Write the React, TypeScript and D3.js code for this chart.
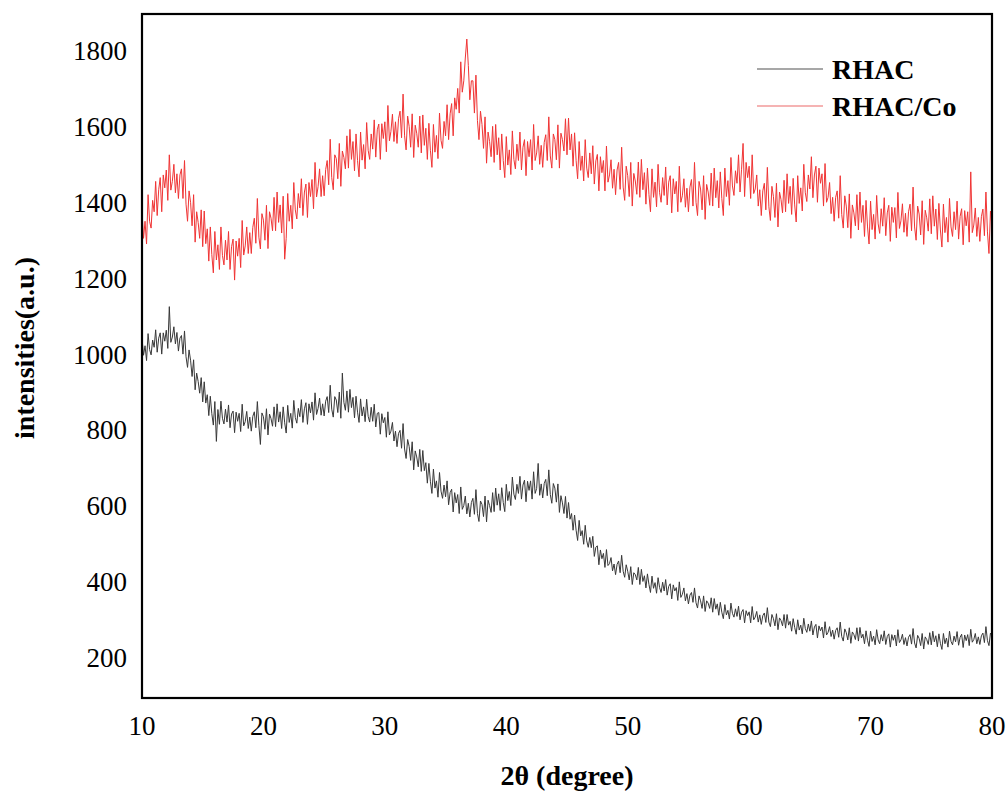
import React from "react";
import * as d3 from "d3";

// 2θ sampling: start 10°, step 0.125° (8 readings per degree)
const twoThetaStart = 10;
const twoThetaStep = 0.125;

// RHAC intensities, one row per degree (10..79) + final value at 80
const rhac = [
  1042, 997, 1022, 983, 1054, 1012, 998, 1037,
  1018, 1064, 1005, 1042, 1056, 1000, 1056, 1034,
  1063, 1015, 1125, 1031, 1045, 1072, 1027, 1057,
  1008, 1042, 1049, 1000, 1061, 993, 965, 1011,
  984, 941, 985, 906, 950, 928, 897, 938,
  874, 927, 871, 893, 838, 889, 843, 813,
  875, 770, 854, 815, 876, 831, 816, 855,
  821, 866, 806, 842, 850, 793, 847, 823,
  844, 796, 868, 811, 822, 849, 804, 834,
  797, 836, 848, 806, 875, 812, 762, 845,
  835, 802, 856, 787, 842, 830, 810, 861,
  809, 869, 821, 848, 804, 861, 819, 792,
  865, 820, 844, 805, 878, 833, 818, 857,
  835, 880, 820, 856, 872, 815, 869, 845,
  874, 826, 898, 841, 857, 884, 839, 869,
  837, 876, 888, 846, 918, 855, 834, 888,
  879, 846, 900, 831, 950, 873, 852, 903,
  847, 907, 859, 886, 832, 889, 847, 820,
  882, 837, 861, 822, 881, 836, 821, 860,
  823, 868, 808, 844, 846, 789, 843, 819,
  833, 781, 848, 787, 797, 820, 771, 797,
  756, 791, 799, 752, 817, 750, 725, 775,
  757, 720, 769, 695, 745, 729, 703, 749,
  691, 746, 693, 714, 660, 712, 665, 633,
  697, 647, 666, 623, 688, 639, 620, 655,
  624, 666, 603, 635, 644, 584, 635, 608,
  630, 580, 650, 591, 601, 626, 579, 607,
  571, 609, 620, 578, 643, 580, 559, 613,
  604, 572, 626, 558, 615, 601, 583, 635,
  585, 647, 602, 632, 588, 648, 609, 585,
  657, 614, 638, 601, 676, 631, 617, 657,
  633, 678, 618, 655, 668, 611, 665, 641,
  666, 618, 690, 633, 646, 712, 628, 658,
  621, 659, 670, 627, 695, 630, 607, 659,
  647, 610, 658, 583, 627, 608, 580, 625,
  568, 609, 565, 580, 536, 576, 536, 509,
  562, 521, 535, 499, 549, 508, 491, 517,
  490, 520, 467, 491, 495, 445, 484, 461,
  475, 438, 485, 443, 448, 464, 429, 447,
  419, 446, 455, 424, 470, 428, 412, 445,
  428, 405, 440, 393, 424, 419, 405, 438,
  393, 433, 401, 416, 384, 421, 393, 372,
  415, 383, 398, 370, 411, 385, 372, 399,
  376, 406, 365, 388, 395, 355, 392, 376,
  385, 351, 400, 359, 367, 384, 350, 369,
  342, 365, 372, 346, 384, 345, 331, 363,
  350, 330, 363, 322, 350, 344, 330, 358,
  320, 356, 328, 342, 312, 346, 320, 303,
  340, 313, 325, 302, 344, 317, 307, 329,
  309, 336, 300, 320, 327, 292, 324, 311,
  321, 292, 335, 300, 307, 322, 294, 313,
  288, 311, 318, 293, 332, 294, 282, 314,
  303, 284, 316, 274, 305, 298, 284, 314,
  278, 314, 286, 296, 270, 303, 280, 262,
  300, 273, 286, 263, 304, 277, 267, 289,
  270, 297, 260, 281, 288, 252, 284, 271,
  281, 252, 295, 260, 267, 282, 256, 273,
  249, 272, 279, 254, 294, 256, 244, 276,
  266, 247, 279, 238, 268, 261, 248, 279,
  244, 280, 252, 262, 237, 271, 246, 230,
  270, 243, 257, 234, 274, 247, 237, 261,
  244, 271, 235, 256, 263, 228, 261, 246,
  260, 231, 274, 240, 247, 262, 235, 253,
  231, 254, 261, 236, 277, 239, 226, 259,
  251, 232, 264, 223, 255, 248, 235, 266,
  234, 270, 242, 258, 229, 263, 238, 222,
  264, 237, 252, 228, 270, 243, 234, 257,
  242, 269, 233, 254, 262, 227, 260, 245,
  261, 232, 275, 241, 248, 264, 237, 255,
  235, 258, 265, 240, 282, 245, 232, 265,
  258,
];

// RHAC/Co intensities, one row per degree (10..79) + final value at 80
const rhacCo = [
  1375, 1305, 1350, 1290, 1420, 1350, 1332, 1405,
  1375, 1455, 1365, 1433, 1465, 1375, 1472, 1438,
  1485, 1405, 1525, 1432, 1455, 1500, 1425, 1475,
  1410, 1472, 1488, 1410, 1510, 1395, 1350, 1430,
  1400, 1338, 1420, 1295, 1375, 1347, 1305, 1380,
  1283, 1377, 1291, 1330, 1245, 1335, 1262, 1214,
  1323, 1248, 1288, 1223, 1335, 1260, 1235, 1300,
  1248, 1323, 1223, 1283, 1303, 1195, 1298, 1258,
  1305, 1228, 1352, 1261, 1285, 1335, 1265, 1320,
  1265, 1334, 1358, 1292, 1410, 1308, 1277, 1370,
  1353, 1300, 1392, 1278, 1375, 1358, 1325, 1413,
  1325, 1427, 1347, 1393, 1319, 1416, 1250, 1305,
  1423, 1350, 1392, 1330, 1452, 1380, 1356, 1423,
  1385, 1462, 1365, 1427, 1448, 1360, 1452, 1415,
  1460, 1383, 1505, 1414, 1441, 1488, 1415, 1470,
  1417, 1486, 1510, 1446, 1566, 1465, 1433, 1525,
  1515, 1462, 1555, 1442, 1535, 1518, 1488, 1575,
  1490, 1592, 1513, 1560, 1483, 1580, 1510, 1467,
  1585, 1511, 1552, 1488, 1610, 1537, 1513, 1580,
  1540, 1617, 1519, 1591, 1606, 1513, 1607, 1568,
  1612, 1533, 1655, 1562, 1587, 1632, 1560, 1612,
  1555, 1620, 1640, 1570, 1685, 1575, 1538, 1627,
  1600, 1545, 1633, 1518, 1603, 1582, 1545, 1627,
  1530, 1630, 1550, 1595, 1513, 1608, 1537, 1492,
  1605, 1532, 1576, 1515, 1635, 1563, 1542, 1613,
  1575, 1657, 1565, 1633, 1660, 1575, 1675, 1645,
  1700, 1635, 1770, 1690, 1720, 1780, 1830, 1760,
  1670, 1720, 1720, 1635, 1735, 1615, 1565, 1640,
  1605, 1542, 1625, 1503, 1585, 1560, 1520, 1600,
  1505, 1605, 1525, 1570, 1485, 1580, 1510, 1465,
  1573, 1498, 1538, 1473, 1588, 1513, 1488, 1553,
  1510, 1585, 1485, 1545, 1565, 1470, 1560, 1520,
  1565, 1485, 1605, 1510, 1530, 1575, 1500, 1550,
  1492, 1558, 1578, 1510, 1625, 1522, 1490, 1580,
  1565, 1512, 1604, 1490, 1582, 1565, 1535, 1620,
  1525, 1622, 1538, 1580, 1495, 1583, 1510, 1462,
  1560, 1484, 1522, 1456, 1565, 1490, 1465, 1530,
  1475, 1549, 1448, 1509, 1526, 1430, 1520, 1478,
  1510, 1430, 1548, 1453, 1472, 1512, 1437, 1487,
  1420, 1485, 1505, 1434, 1545, 1440, 1405, 1495,
  1470, 1415, 1505, 1390, 1476, 1456, 1421, 1506,
  1413, 1513, 1433, 1478, 1395, 1490, 1420, 1375,
  1488, 1413, 1453, 1388, 1500, 1425, 1400, 1465,
  1418, 1493, 1393, 1453, 1470, 1372, 1462, 1422,
  1455, 1375, 1495, 1400, 1417, 1462, 1387, 1437,
  1375, 1440, 1460, 1390, 1505, 1400, 1365, 1455,
  1435, 1380, 1470, 1355, 1447, 1427, 1392, 1477,
  1390, 1490, 1412, 1457, 1385, 1480, 1410, 1365,
  1490, 1415, 1457, 1392, 1518, 1443, 1418, 1483,
  1450, 1525, 1427, 1487, 1555, 1415, 1505, 1465,
  1495, 1410, 1525, 1423, 1435, 1472, 1390, 1433,
  1365, 1430, 1450, 1380, 1492, 1388, 1352, 1442,
  1415, 1360, 1450, 1335, 1427, 1407, 1372, 1458,
  1375, 1475, 1397, 1442, 1368, 1463, 1393, 1348,
  1470, 1397, 1438, 1377, 1500, 1425, 1402, 1472,
  1435, 1520, 1412, 1472, 1495, 1400, 1490, 1450,
  1475, 1390, 1502, 1400, 1413, 1452, 1370, 1413,
  1350, 1413, 1430, 1358, 1470, 1368, 1332, 1417,
  1390, 1333, 1422, 1305, 1393, 1372, 1338, 1420,
  1327, 1427, 1347, 1392, 1310, 1405, 1335, 1290,
  1403, 1328, 1368, 1303, 1418, 1343, 1318, 1383,
  1337, 1412, 1312, 1372, 1392, 1297, 1387, 1347,
  1386, 1306, 1426, 1331, 1351, 1396, 1321, 1371,
  1310, 1375, 1395, 1325, 1440, 1335, 1300, 1390,
  1369, 1314, 1404, 1289, 1379, 1359, 1324, 1409,
  1317, 1417, 1337, 1382, 1302, 1397, 1327, 1282,
  1395, 1320, 1360, 1295, 1410, 1335, 1310, 1375,
  1328, 1403, 1303, 1363, 1383, 1288, 1378, 1338,
  1375, 1295, 1480, 1320, 1340, 1385, 1310, 1360,
  1297, 1362, 1382, 1312, 1427, 1322, 1265, 1377,
  1335,
];

const xTicks = [10, 20, 30, 40, 50, 60, 70, 80];
const yTicks = [200, 400, 600, 800, 1000, 1200, 1400, 1600, 1800];
const seriesNames = ["RHAC", "RHAC/Co"];
const seriesColors = ["#383838", "#f03434"];
const legendColors = ["#8a8a8a", "#f29a9a"];

export default function App() {
  const W = 1008;
  const H = 792;
  const left = 142, top = 14, right = 992, bottom = 698;

  const x = d3.scaleLinear().domain([10, 80]).range([left, right]);
  const y = d3.scaleLinear().domain([94, 1896]).range([bottom, top]);

  const toPts = (arr: number[]) => arr.map((v, i) => [twoThetaStart + i * twoThetaStep, v] as [number, number]);
  const line = d3.line<[number, number]>().x((d) => x(d[0])).y((d) => y(d[1]));

  const font = "'Liberation Serif', 'Times New Roman', serif";
  const data = [rhac, rhacCo];

  return (
    <svg width={W} height={H} style={{ position: "absolute", left: 0, top: 0, background: "#fff" }}>
      <defs>
        <clipPath id="plotclip">
          <rect x={left} y={top} width={right - left} height={bottom - top} />
        </clipPath>
      </defs>
      <rect x={0} y={0} width={W} height={H} fill="#fff" />
      <g clipPath="url(#plotclip)">
        {data.map((arr, i) => (
          <path key={i} d={line(toPts(arr)) || ""} fill="none" stroke={seriesColors[i]} strokeWidth={1} />
        ))}
      </g>
      <rect x={left} y={top} width={right - left} height={bottom - top} fill="none" stroke="#000" strokeWidth={2.2} />
      {yTicks.map((t) => (
        <text key={t} x={127} y={y(t)} dy="0.35em" textAnchor="end" fontFamily={font} fontSize={27} fill="#000">
          {t}
        </text>
      ))}
      {xTicks.map((t) => (
        <text key={t} x={x(t)} y={735} textAnchor="middle" fontFamily={font} fontSize={27} fill="#000">
          {t}
        </text>
      ))}
      <text x={(left + right) / 2} y={785} textAnchor="middle" fontFamily={font} fontSize={28} fontWeight="bold" fill="#000">
        2θ (degree)
      </text>
      <text
        transform={`translate(34, ${348}) rotate(-90)`}
        textAnchor="middle"
        fontFamily={font}
        fontSize={28}
        fontWeight="bold"
        fill="#000"
      >
        intensities(a.u.)
      </text>
      {seriesNames.map((n, i) => (
        <g key={n}>
          <line x1={757} x2={823} y1={69 + i * 37} y2={69 + i * 37} stroke={legendColors[i]} strokeWidth={1.5} />
          <text x={832} y={79 + i * 37} fontFamily={font} fontSize={28} fontWeight="bold" fill="#000">
            {n}
          </text>
        </g>
      ))}
    </svg>
  );
}
